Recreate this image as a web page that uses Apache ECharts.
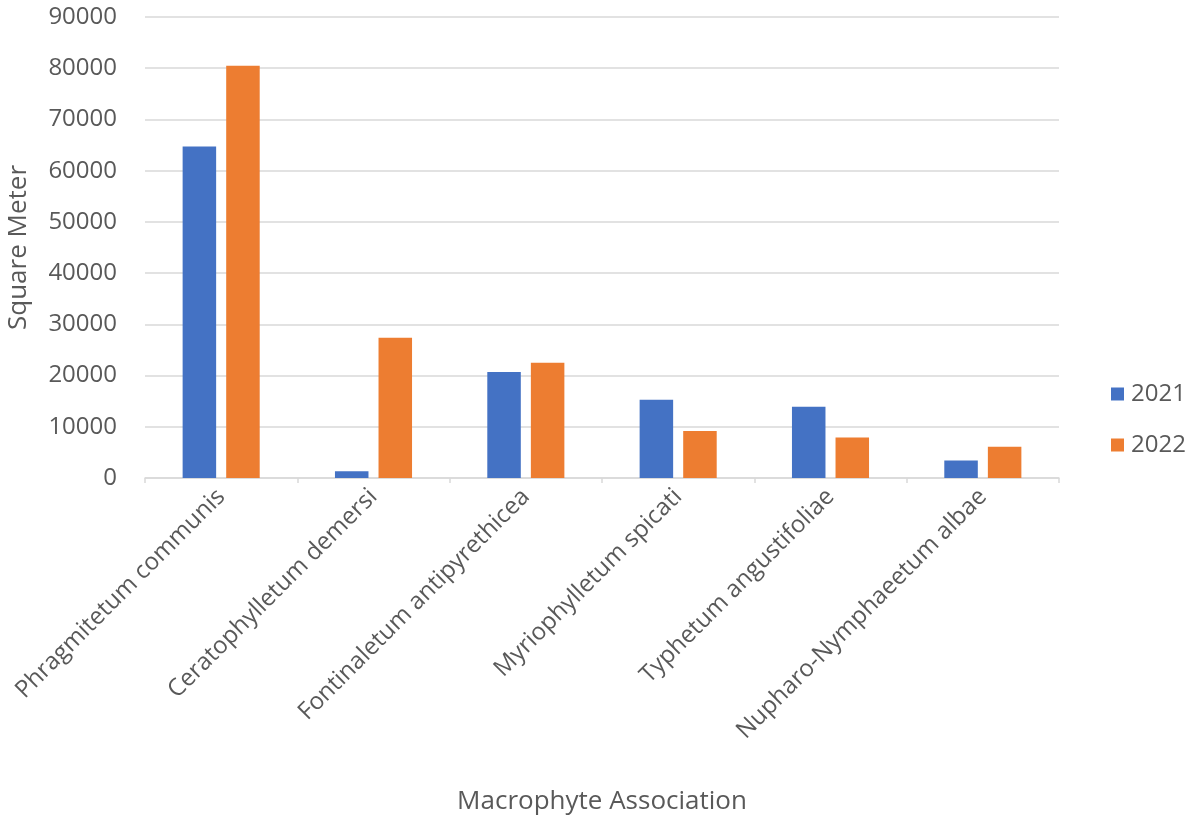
<!DOCTYPE html>
<html>
<head>
<meta charset="utf-8">
<script src="https://cdn.jsdelivr.net/npm/echarts@6/dist/echarts.min.js"></script>
<style>
  html, body { margin: 0; padding: 0; background: #ffffff; }
  #chart { width: 1193px; height: 817px; }
</style>
</head>
<body>
<div id="chart"></div>
<script>
// Area covered by each macrophyte association, in square metres
const categories = [
  'Phragmitetum communis',
  'Ceratophylletum demersi',
  'Fontinaletum antipyrethicea',
  'Myriophylletum spicati',
  'Typhetum angustifoliae',
  'Nupharo-Nymphaeetum albae'
];
const values2021 = [64700, 1300, 20700, 15300, 13900, 3400];
const values2022 = [80500, 27400, 22500, 9200, 7900, 6100];
const seriesNames = ['2021', '2022'];

const textColor = '#595959';
const fontFamily = '"Open Sans", "Liberation Sans", sans-serif';

const chart = echarts.init(document.getElementById('chart'), null, { renderer: 'canvas' });

chart.setOption({
  backgroundColor: '#ffffff',
  animation: false,
  textStyle: { fontFamily: fontFamily, color: textColor },
  grid: {
    left: 145, right: 134, top: 17, bottom: 339,
    containLabel: false,
    outerBoundsMode: 'none'
  },
  legend: {
    orient: 'vertical',
    left: 1106,
    top: 377,
    itemWidth: 13,
    itemHeight: 13,
    itemGap: 27,
    icon: 'rect',
    textStyle: { fontSize: 24, color: textColor, fontFamily: fontFamily, padding: [0, 0, 0, 2] },
    data: seriesNames
  },
  xAxis: {
    type: 'category',
    data: categories,
    name: 'Macrophyte Association',
    nameLocation: 'middle',
    nameGap: 311,
    nameTextStyle: { fontSize: 26, color: textColor, fontFamily: fontFamily },
    axisLine: { lineStyle: { color: '#d9d9d9', width: 1.5 } },
    axisTick: { show: true, length: 5, lineStyle: { color: '#d9d9d9', width: 1.5 } },
    axisLabel: {
      rotate: 45,
      interval: 0,
      margin: 15,
      fontSize: 24,
      color: textColor,
      fontFamily: fontFamily
    }
  },
  yAxis: {
    type: 'value',
    min: 0,
    max: 90000,
    interval: 10000,
    name: 'Square Meter',
    nameLocation: 'middle',
    nameGap: 113,
    nameTextStyle: { fontSize: 26, color: textColor, fontFamily: fontFamily },
    axisLine: { show: false },
    axisTick: { show: false },
    axisLabel: {
      margin: 28,
      fontSize: 24,
      color: textColor,
      fontFamily: fontFamily,
      formatter: function (v) { return String(v); }
    },
    splitLine: { lineStyle: { color: '#d9d9d9', width: 1.5 } }
  },
  series: [
    {
      name: seriesNames[0],
      type: 'bar',
      data: values2021,
      barWidth: '22%',
      barGap: '30%',
      itemStyle: { color: '#4472c4' }
    },
    {
      name: seriesNames[1],
      type: 'bar',
      data: values2022,
      barWidth: '22%',
      barGap: '30%',
      itemStyle: { color: '#ed7d31' }
    }
  ]
});
</script>
</body>
</html>
